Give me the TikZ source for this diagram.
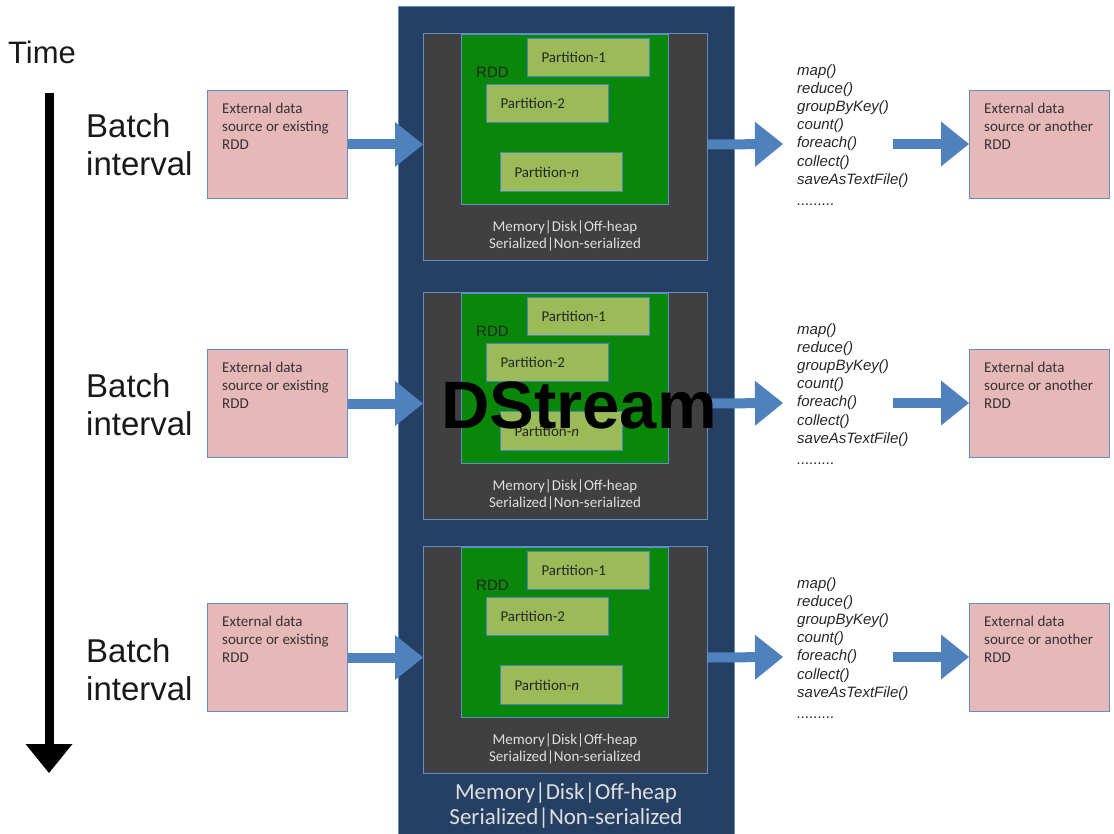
\documentclass[tikz,border=0pt]{standalone}
\usepackage{fontspec}
\setmainfont{Carlito}
\newfontfamily\arialfont{Liberation Sans}
\usetikzlibrary{arrows.meta}

\definecolor{navyfill}{RGB}{38,64,100}
\definecolor{edgeblue}{RGB}{96,142,204}
\definecolor{slate}{RGB}{64,64,64}
\definecolor{rddgreen}{RGB}{8,135,8}
\definecolor{partgreen}{RGB}{155,187,89}
\definecolor{srcpink}{RGB}{230,185,184}
\definecolor{flowblue}{RGB}{79,129,189}
\definecolor{paletext}{RGB}{222,222,222}

\newcommand\fsz[2]{\fontsize{#1}{#2}\selectfont}

\begin{document}
\begin{tikzpicture}[x=1pt,y=-1pt,
  box/.style={draw=edgeblue, line width=1pt, inner sep=0pt, anchor=north west},
  storebox/.style={box, fill=slate, minimum width=284pt, minimum height=227pt},
  rddbox/.style={box, fill=rddgreen, minimum width=207pt, minimum height=170pt},
  partbox/.style={box, draw=flowblue, fill=partgreen, text width=94pt, inner xsep=14pt,
    minimum height=38pt, align=left, font=\fsz{15}{18}, text=black!85},
  srcbox/.style={box, fill=srcpink, minimum width=140pt, minimum height=108pt},
  srctext/.style={anchor=north west, inner sep=0pt, align=left, font=\fsz{15}{18}, text=black!80},
  storetext/.style={inner sep=0pt, align=center, font=\fsz{15}{17}, text=paletext},
  opslist/.style={anchor=north west, inner sep=0pt, align=left,
    font=\arialfont\itshape\fsz{15}{18.2}, text=black!85},
  batch/.style={anchor=north west, inner sep=0pt, align=left,
    font=\arialfont\fsz{33}{38}, text=black!90},
  flow/.style={draw=flowblue, line width=10pt,
    -{Triangle[length=28pt,width=45pt,line width=0pt]}},
]
\useasboundingbox (0,0) rectangle (1114,834);

% time axis
\node[anchor=north west, inner sep=0pt, font=\arialfont\fsz{31}{36}, text=black!90]
  (time) at (8,41) {Time};
\coordinate (tstart) at (49,93);
\coordinate (tend) at (49,773);
\draw[line width=9pt, black, -{Triangle[length=29pt,width=47pt,line width=0pt]}]
  (tstart) -- (tend);

% the DStream column
\node[box, fill=navyfill, minimum width=336pt, minimum height=830pt] (dstream) at (398,6) {};

\foreach \i/\dy/\ty in {1/0/0, 2/259/260, 3/513/525} {
  % batch label
  \node[batch] (batch\i) at (86,{113+\ty}) {Batch\\interval};

  % input source
  \node[srcbox] (src\i) at (207,{90+\dy}) {};
  \node[srctext] (srct\i) at (222,{102.5+\dy}) {External data\\source or existing\\RDD};

  % storage level box with its RDD and partitions
  \node[storebox] (store\i) at (423,{33+\dy}) {};
  \node[rddbox] (rdd\i) at (461,{34+\dy}) {};
  \node[anchor=west, inner sep=0pt, font=\arialfont\fsz{15}{18}, text=black!85]
    (rddl\i) at (476,{72+\dy}) {RDD};
  \node[partbox] (pa\i) at (527,{38+\dy}) {Partition-1};
  \node[partbox] (pb\i) at (486,{84+\dy}) {Partition-2};
  \node[partbox, minimum height=39pt] (pn\i) at (500,{152+\dy}) {Partition-\textit{n}};
  \node[storetext] (lvl\i) at (565,{236+\dy}) {Memory|Disk|Off-heap\\Serialized|Non-serialized};

  % operations and output
  \node[opslist] (ops\i) at (797,{64+\dy})
    {map()\\reduce()\\groupByKey()\\count()\\foreach()\\collect()\\saveAsTextFile()\\[3pt].........};
  \node[srcbox] (dst\i) at (969,{90+\dy}) {};
  \node[srctext] (dstt\i) at (984,{102.5+\dy}) {External data\\source or another\\RDD};

  % flows
  \coordinate (opin\i) at (783,{144+\dy});
  \coordinate (opout\i) at (893,{144+\dy});
  \draw[flow] (src\i.east) -- (src\i.east -| store\i.west);
  \draw[flow] (store\i.east |- src\i.east) -- (opin\i);
  \draw[flow] (opout\i) -- (opout\i -| dst\i.west);
}

% overall title and storage level of the stream
\node[anchor=base, inner sep=0pt, font=\arialfont\bfseries\fsz{67}{70}, text=black]
  (title) at (579,428) {DStream};
\node[inner sep=0pt, align=center, font=\fsz{23}{25}, text=paletext]
  (streamlvl) at (566,806) {Memory|Disk|Off-heap\\Serialized|Non-serialized};
\end{tikzpicture}
\end{document}
